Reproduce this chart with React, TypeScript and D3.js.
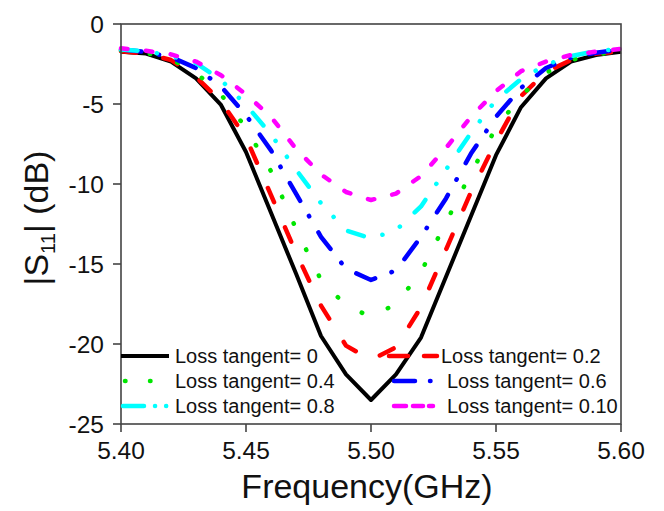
import React from "react";
import * as d3 from "d3";

const freqs = [5.40, 5.41, 5.42, 5.43, 5.44, 5.45, 5.46, 5.47, 5.48, 5.49, 5.50, 5.51, 5.52, 5.53, 5.54, 5.55, 5.56, 5.57, 5.58, 5.59, 5.60];

const s0 = [-1.73, -1.85, -2.35, -3.4, -5.06, -8.0, -11.8, -15.6, -19.5, -21.9, -23.5, -21.9, -19.6, -15.8, -12.0, -8.2, -5.2, -3.4, -2.35, -1.94, -1.73];
const s02 = [-1.7, -1.85, -2.25, -3.3, -4.85, -7.1, -10.7, -14.3, -17.6, -20.1, -21.0, -20.2, -17.7, -14.1, -10.5, -7.35, -4.5, -3.0, -2.25, -1.85, -1.7];
const s04 = [-1.65, -1.8, -2.2, -3.05, -4.4, -6.5, -9.2, -12.8, -16.0, -17.6, -18.3, -17.5, -15.5, -12.4, -9.3, -6.5, -4.5, -3.05, -2.25, -1.9, -1.7];
const s06 = [-1.6, -1.75, -2.07, -2.75, -3.9, -5.7, -7.9, -10.6, -13.3, -15.3, -16.0, -15.4, -13.3, -10.9, -8.1, -5.8, -4.0, -2.75, -2.1, -1.8, -1.6];
const s08 = [-1.6, -1.7, -2.0, -2.45, -3.5, -5.06, -6.9, -9.1, -11.2, -12.9, -13.4, -12.9, -11.4, -9.1, -6.8, -4.75, -3.45, -2.55, -2.0, -1.7, -1.55];
const s010 = [-1.52, -1.67, -1.9, -2.35, -3.2, -4.4, -5.8, -7.8, -9.4, -10.5, -11.0, -10.6, -9.5, -7.75, -5.8, -4.2, -2.95, -2.35, -1.94, -1.73, -1.55];

const seriesLabels = ["Loss tangent= 0", "Loss tangent= 0.2", "Loss tangent= 0.4", "Loss tangent= 0.6", "Loss tangent= 0.8", "Loss tangent= 0.10"];
const xTicks = [5.40, 5.45, 5.50, 5.55, 5.60];
const xTickLabels = ["5.40", "5.45", "5.50", "5.55", "5.60"];
const yTicks = [0, -5, -10, -15, -20, -25];
const yTickLabels = ["0", "-5", "-10", "-15", "-20", "-25"];

const FONT = "'Liberation Sans', Arial, Helvetica, sans-serif";

const styles = [
  { color: "#000000", dash: "none", width: 4 },
  { color: "#ff0000", dash: "15.5 27.5", width: 4.5 },
  { color: "#00e600", dash: "0.5 28.5", width: 4.5 },
  { color: "#0000ff", dash: "20.5 17.5 0.5 18.5", width: 4.5 },
  { color: "#00ffff", dash: "16.5 19.5 0.1 19.5 0.1 20.5", width: 4.5 },
  { color: "#ff00ff", dash: "6.5 18.5", width: 4.5 },
];

const legendLayout = [
  { x1: 121, x2: 169, tx: 175, y: 356, dash: "none" },
  { x1: 389, x2: 437, tx: 441, y: 356, dash: "19 16 14 50" },
  { x1: 125, x2: 152, tx: 175, y: 381, dash: "0.5 24.5" },
  { x1: 394, x2: 431, tx: 447, y: 381, dash: "21 15 0.5 30" },
  { x1: 123, x2: 168, tx: 175, y: 406, dash: "21 11 0.1 11 0.1 30" },
  { x1: 394, x2: 438, tx: 447, y: 406, dash: "12 7 10 6 4 30" },
];

export default function App() {
  const W = 664, H = 511;
  const x = d3.scaleLinear().domain([5.40, 5.60]).range([121, 621]);
  const y = d3.scaleLinear().domain([0, -25]).range([24, 424]);
  const all = [s0, s02, s04, s06, s08, s010];
  const line = d3.line<number>().x((_, i) => x(freqs[i])).y((d) => y(d)).curve(d3.curveLinear);
  const [x0, x1] = x.range();
  const [y0, y1] = y.range();

  return (
    <svg width={W} height={H} style={{ position: "absolute", left: 0, top: 0, background: "#fff" }} fontFamily={FONT}>
      <rect x={0} y={0} width={W} height={H} fill="#fff" />
      {all.map((s, i) => (
        <path key={i} d={line(s) || ""} fill="none" stroke={styles[i].color} strokeWidth={styles[i].width}
          strokeDasharray={styles[i].dash} strokeLinecap={i === 0 ? "butt" : "round"} strokeLinejoin="round" />
      ))}
      <rect x={x0} y={y0} width={x1 - x0} height={y1 - y0} fill="none" stroke="#444" strokeWidth={1.6} />
      {xTicks.map((t, i) => (
        <g key={i}>
          <line x1={x(t)} x2={x(t)} y1={y1} y2={y1 + 8} stroke="#444" strokeWidth={1.6} />
          <text x={x(t)} y={459} textAnchor="middle" fontSize={24.5} fill="#111">{xTickLabels[i]}</text>
        </g>
      ))}
      {yTicks.map((t, i) => (
        <g key={i}>
          <line x1={x0 - 8} x2={x0} y1={y(t)} y2={y(t)} stroke="#444" strokeWidth={1.6} />
          <text x={104} y={y(t) + 8.5} textAnchor="end" fontSize={24.5} fill="#111">{yTickLabels[i]}</text>
        </g>
      ))}
      <text x={367} y={498} textAnchor="middle" fontSize={34} fill="#111">Frequency(GHz)</text>
      <text transform="translate(48,218) rotate(-90)" textAnchor="middle" fontSize={34} fill="#111">
        <tspan>|S</tspan>
        <tspan fontSize={20} dy={7}>11</tspan>
        <tspan dy={-7}>| (dB)</tspan>
      </text>
      {legendLayout.map((l, i) => (
        <g key={i}>
          <line x1={l.x1} x2={l.x2} y1={l.y} y2={l.y} stroke={styles[i].color} strokeWidth={styles[i].width}
            strokeDasharray={l.dash} strokeLinecap={i === 0 ? "butt" : "round"} />
          <text x={l.tx} y={l.y + 7} fontSize={20} fill="#111">{seriesLabels[i]}</text>
        </g>
      ))}
    </svg>
  );
}
